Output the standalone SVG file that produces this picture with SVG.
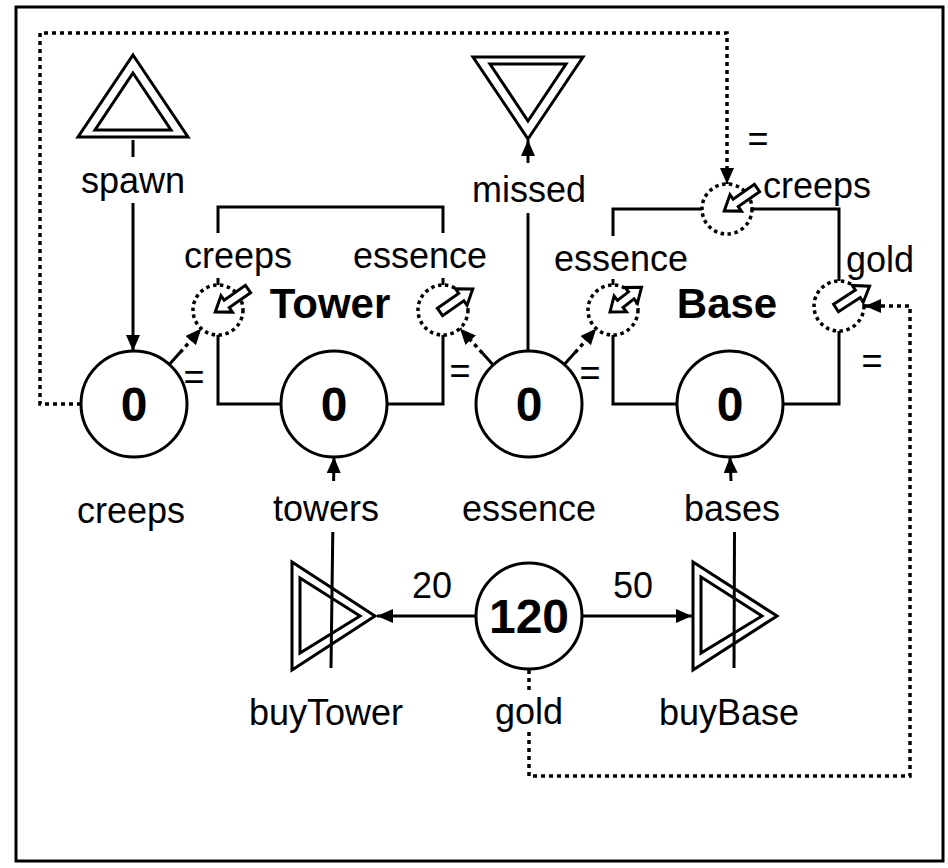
<svg xmlns="http://www.w3.org/2000/svg" width="948" height="868" viewBox="0 0 948 868">
<defs>
<marker id="ah" markerWidth="16" markerHeight="14" refX="16" refY="7" orient="auto" markerUnits="userSpaceOnUse"><path d="M0,0 L16,7 L0,14 Z" fill="#000"/></marker>
<path id="arr1" d="M0,-4.5 H26 V-10 L40,0 L26,10 V4.5 H0 Z"/>
<path id="arr2" d="M0,0 L13,-10 V-4.5 H27 V-10 L40,0 L27,10 V4.5 H13 V10 Z"/>
</defs>
<style>
text{font-family:"Liberation Sans",Arial,sans-serif;font-size:36px;fill:#000}
.c{text-anchor:middle}
.b{font-weight:bold}
.n{font-weight:bold;font-size:48px;text-anchor:middle}
.t{font-weight:bold;font-size:42px;text-anchor:middle}
.ln{fill:none;stroke:#000;stroke-width:3}
.dt{fill:none;stroke:#000;stroke-width:3.5;stroke-dasharray:4 4}
.pool{fill:#fff;stroke:#000;stroke-width:3}
.gate{fill:none;stroke:#000;stroke-width:3.5;stroke-dasharray:3.5 3.5}
.ha{fill:#fff;stroke:#000;stroke-width:3}
.tri{fill:none;stroke:#000;stroke-width:3;stroke-linejoin:miter}
</style>
<rect x="0" y="0" width="948" height="868" fill="#fff"/>
<rect x="16" y="7" width="927" height="854" fill="#fff" stroke="#000" stroke-width="3"/>

<g id="connectors">
  <path class="ln" d="M133,140 V157"/>
  <path class="ln" d="M133,203 V351" marker-end="url(#ah)"/>
  <path class="ln" d="M528,351 V213"/>
  <path class="ln" d="M528,163 V140" marker-end="url(#ah)"/>
  <path class="ln" d="M331,668 L332.8,532"/>
  <path class="ln" d="M333.6,481 L334,457" marker-end="url(#ah)"/>
  <path class="ln" d="M734,668 L734.5,532"/>
  <path class="ln" d="M731,481 L730,457" marker-end="url(#ah)"/>
  <path class="ln" d="M476,616 H377" marker-end="url(#ah)"/>
  <path class="ln" d="M582,616 H692" marker-end="url(#ah)"/>
  <path class="ln" d="M218,233 V207 H443 V233"/>
  <path class="ln" d="M218,278 V285 M443,278 V285"/>
  <path class="ln" d="M218,335 V404 H281 M387,404 H443 V335"/>
  <path class="ln" d="M613,236 V209 H702 M752,209 H839 V281"/>
  <path class="ln" d="M613,279 V285"/>
  <path class="ln" d="M613,335 V404 H677 M783,404 H839 V331"/>
  <path class="ln" d="M169.3,364.5 L180,352.6"/>
  <path class="dt" d="M180,352.6 L201.3,328.6" marker-end="url(#ah)"/>
  <path class="ln" d="M493.2,364.9 L482.4,353.1"/>
  <path class="dt" d="M482.4,353.1 L459.9,328.4" marker-end="url(#ah)"/>
  <path class="ln" d="M564.3,364.5 L575,352.6"/>
  <path class="dt" d="M575,352.6 L596.3,328.6" marker-end="url(#ah)"/>
  <path class="dt" d="M81,404 H40 V33 H727 V184" marker-end="url(#ah)"/>
  <path class="dt" d="M529,670 V692"/>
  <path class="dt" d="M529,732 V776 H910 V306 H865" marker-end="url(#ah)"/>
  <text class="c" x="194" y="389">=</text>
  <text class="c" x="460" y="383">=</text>
  <text class="c" x="590" y="385">=</text>
  <text class="c" x="872" y="373">=</text>
  <text class="c" x="758" y="151">=</text>
  <text class="c" x="432" y="598">20</text>
  <text class="c" x="633" y="598">50</text>
</g>

<g id="spawn">
  <path class="tri" d="M133,55 L188,137 L78,137 Z"/>
  <path class="tri" d="M133,73 L171,130 L95,130 Z"/>
  <text class="c" x="133" y="193">spawn</text>
</g>
<g id="missed">
  <path class="tri" d="M528,139 L583,57 L473,57 Z"/>
  <path class="tri" d="M528,121 L566,64 L490,64 Z"/>
  <text class="c" x="529" y="202">missed</text>
</g>

<g id="creeps">
  <circle class="pool" cx="134" cy="404" r="53"/>
  <text class="n" x="134" y="421">0</text>
  <text class="c" x="131" y="523">creeps</text>
</g>
<g id="towers">
  <circle class="pool" cx="334" cy="404" r="53"/>
  <text class="n" x="334" y="421">0</text>
  <text class="c" x="326" y="521">towers</text>
</g>
<g id="essence">
  <circle class="pool" cx="529" cy="404" r="53"/>
  <text class="n" x="529" y="421">0</text>
  <text class="c" x="529" y="521">essence</text>
</g>
<g id="bases">
  <circle class="pool" cx="730" cy="404" r="53"/>
  <text class="n" x="730" y="421">0</text>
  <text class="c" x="732" y="521">bases</text>
</g>
<g id="gold">
  <circle class="pool" cx="529" cy="616" r="53"/>
  <text class="n" x="529" y="633">120</text>
  <text class="c" x="529" y="724">gold</text>
</g>

<g id="Tower">
  <text class="t" x="330" y="318">Tower</text>
  <g id="Tower-creeps">
    <circle class="gate" cx="218" cy="310" r="25"/>
    <use href="#arr1" class="ha" transform="translate(248,289) rotate(145)"/>
    <text class="c" x="238" y="268">creeps</text>
  </g>
  <g id="Tower-essence">
    <circle class="gate" cx="443" cy="310" r="25"/>
    <use href="#arr1" class="ha" transform="translate(440,312) rotate(-35)"/>
    <text class="c" x="420" y="268">essence</text>
  </g>
</g>

<g id="Base">
  <text class="t" x="727" y="318">Base</text>
  <g id="Base-essence">
    <circle class="gate" cx="613" cy="310" r="25"/>
    <use href="#arr2" class="ha" transform="translate(610,312) rotate(-38)"/>
    <text class="c" x="621" y="271">essence</text>
  </g>
  <g id="Base-creeps">
    <circle class="gate" cx="727" cy="209" r="25"/>
    <use href="#arr1" class="ha" transform="translate(757,188) rotate(145)"/>
    <text x="763" y="198">creeps</text>
  </g>
  <g id="Base-gold">
    <circle class="gate" cx="839" cy="306" r="25"/>
    <use href="#arr1" class="ha" transform="translate(836,308) rotate(-33)"/>
    <text x="846" y="272">gold</text>
  </g>
</g>

<g id="buyTower">
  <path class="tri" d="M292,562 L375,616 L292,670 Z"/>
  <path class="tri" d="M300,578 L360,616 L300,653 Z"/>
  <text class="c" x="326" y="725">buyTower</text>
</g>
<g id="buyBase">
  <path class="tri" d="M693,562 L777,616 L693,670 Z"/>
  <path class="tri" d="M701,577 L762,616 L701,653 Z"/>
  <text class="c" x="729" y="725">buyBase</text>
</g>
</svg>
